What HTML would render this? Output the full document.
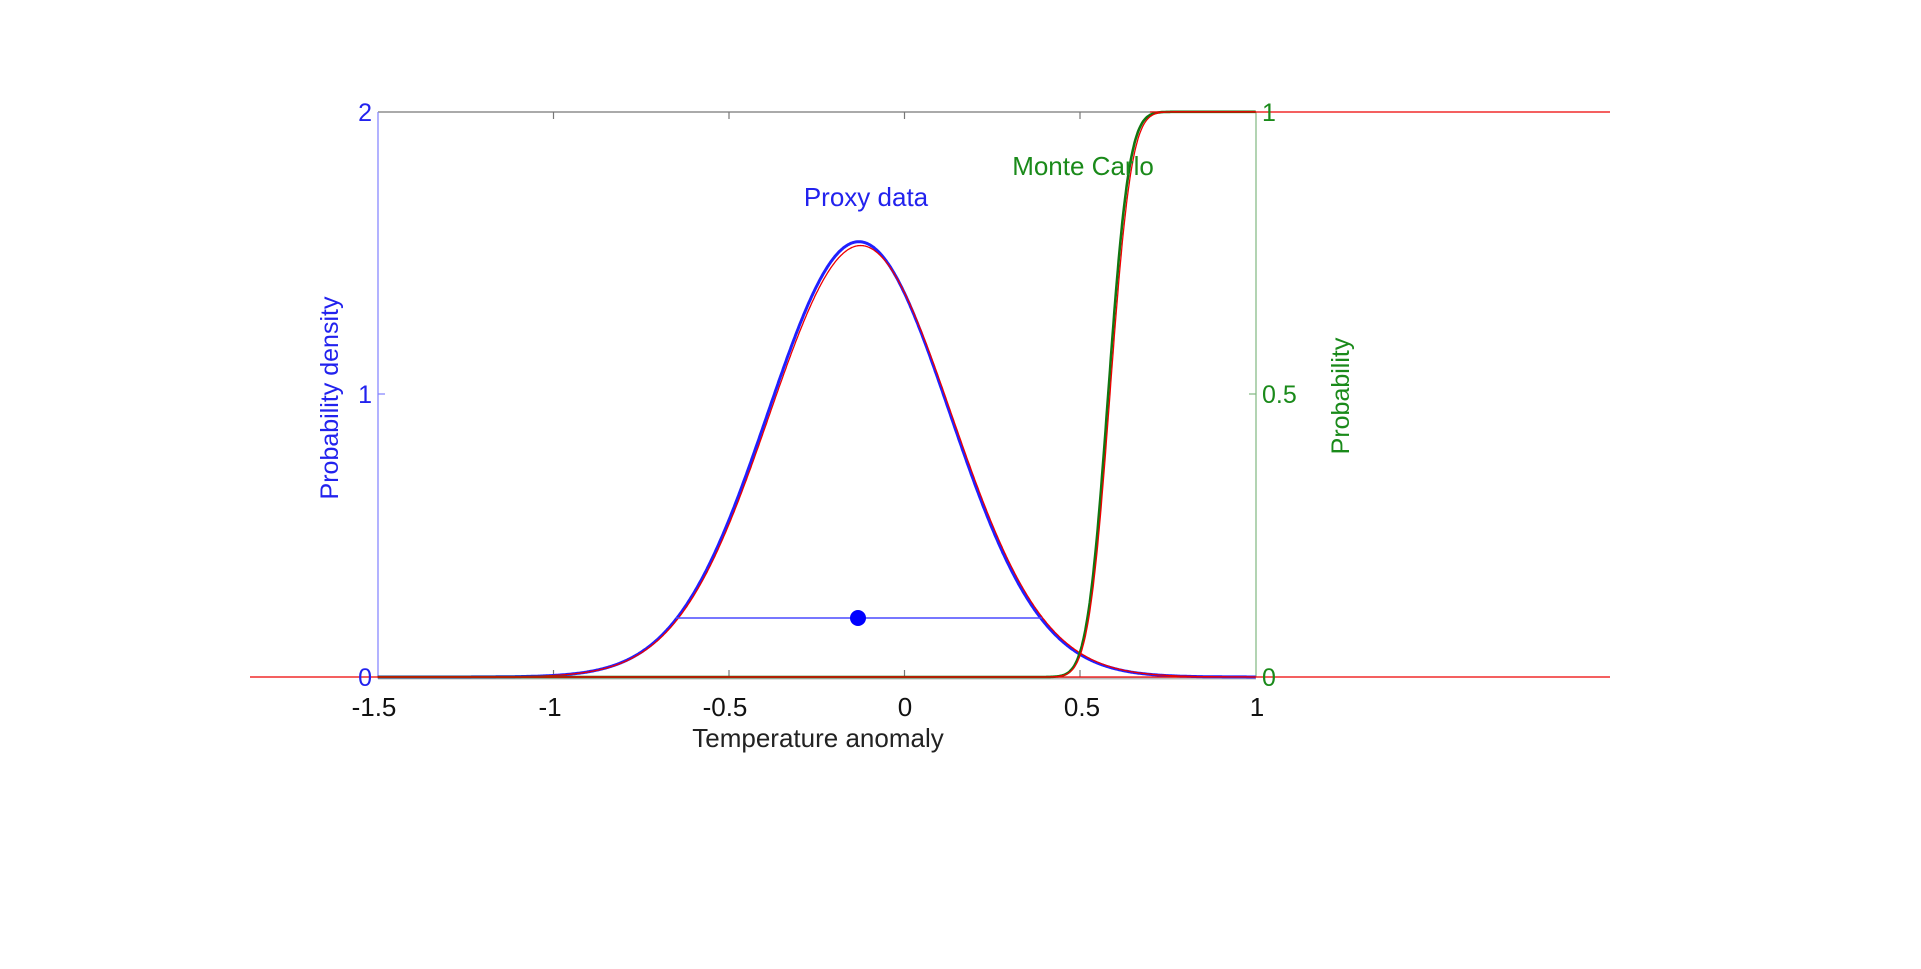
<!DOCTYPE html>
<html><head><meta charset="utf-8"><style>
html,body{margin:0;padding:0;background:#fff;}
svg{display:block;font-family:"Liberation Sans",Arial,sans-serif;}
</style></head><body>
<svg id="s" width="1921" height="969" viewBox="0 0 1921 969" xmlns="http://www.w3.org/2000/svg">
<rect width="1921" height="969" fill="#fff"/>
<line x1="378" y1="112" x2="1256" y2="112" stroke="#777" stroke-width="1.2"/>
<line x1="378" y1="112" x2="378" y2="677" stroke="#8080ff" stroke-width="1.2"/>
<line x1="1256" y1="112" x2="1256" y2="677" stroke="#80b880" stroke-width="1.2"/>
<line x1="378" y1="678" x2="1256" y2="678" stroke="#bbb" stroke-width="3"/>
<g stroke="#777" stroke-width="1.2">
<line x1="553.5" y1="112" x2="553.5" y2="119"/><line x1="729" y1="112" x2="729" y2="119"/>
<line x1="904.5" y1="112" x2="904.5" y2="119"/><line x1="1080" y1="112" x2="1080" y2="119"/>
<line x1="553.5" y1="677" x2="553.5" y2="670"/><line x1="729" y1="677" x2="729" y2="670"/>
<line x1="904.5" y1="677" x2="904.5" y2="670"/><line x1="1080" y1="677" x2="1080" y2="670"/>
</g>
<line x1="378" y1="394" x2="385" y2="394" stroke="#8080ff" stroke-width="1.2"/>
<line x1="1256" y1="394" x2="1249" y2="394" stroke="#80b880" stroke-width="1.2"/>
<g id="curves"></g>
<line x1="250" y1="677" x2="1610" y2="677" stroke="#e00" stroke-width="1.3"/>
<line x1="1150" y1="112" x2="1610" y2="112" stroke="#e00" stroke-width="1.3"/>
<line x1="676" y1="618" x2="1042" y2="618" stroke="#4a4aff" stroke-width="1.6"/>
<circle cx="858" cy="618" r="8" fill="#0000ff"/>
<g font-size="25" fill="#2222ee" text-anchor="end">
<text x="372" y="121">2</text><text x="372" y="403">1</text><text x="372" y="686">0</text>
</g>
<g font-size="25" fill="#1a8a1a" text-anchor="start">
<text x="1262" y="121">1</text><text x="1262" y="403">0.5</text><text x="1262" y="686">0</text>
</g>
<g font-size="26" fill="#111" text-anchor="middle">
<text x="374" y="716">-1.5</text><text x="550" y="716">-1</text><text x="725" y="716">-0.5</text>
<text x="905" y="716">0</text><text x="1082" y="716">0.5</text><text x="1257" y="716">1</text>
</g>
<text x="818" y="747" font-size="26" fill="#222" text-anchor="middle">Temperature anomaly</text>
<text transform="translate(338,398) rotate(-90)" font-size="25" fill="#2222ee" text-anchor="middle">Probability density</text>
<text transform="translate(1349,396) rotate(-90)" font-size="25" fill="#1a8a1a" text-anchor="middle">Probability</text>
<text x="866" y="206" font-size="26" fill="#2222ee" text-anchor="middle">Proxy data</text>
<text x="1083" y="175" font-size="26" fill="#1a8a1a" text-anchor="middle">Monte Carlo</text>
</svg>
<script>
(function(){
var X=function(v){return 904.5+351.2*v;}, Y=function(v){return 677-282.6*v;};
function erf(x){var s=x<0?-1:1;x=Math.abs(x);var t=1/(1+0.3275911*x);
var y=1-(((((1.061405429*t-1.453152027)*t)+1.421413741)*t-0.284496736)*t+0.254829592)*t*Math.exp(-x*x);return s*y;}
function path(f){var d="";for(var i=0;i<=1000;i++){var x=-1.5+2.5*i/1000;d+=(i?"L":"M")+X(x).toFixed(1)+" "+Y(f(x)).toFixed(1);}return d;}
function pdf(m,s,a){return function(x){return a/(s*Math.sqrt(2*Math.PI))*Math.exp(-(x-m)*(x-m)/(2*s*s));};}
function cdf(m,s){return function(x){return 2*(0.5*(1+erf((x-m)/(s*Math.SQRT2))));};}
var g=document.getElementById("curves");
function add(d,c,w){var p=document.createElementNS("http://www.w3.org/2000/svg","path");p.setAttribute("d",d);p.setAttribute("fill","none");p.setAttribute("stroke",c);p.setAttribute("stroke-width",w);g.appendChild(p);}
add(path(pdf(-0.13,0.259,1)),"#2020ff",3);
add(path(pdf(-0.125,0.26,0.995)),"#e00",1.3);
add(path(cdf(0.58,0.047)),"#117711",2.6);
add(path(cdf(0.585,0.048)),"#e00",1.3);
})();
</script>
</body></html>
